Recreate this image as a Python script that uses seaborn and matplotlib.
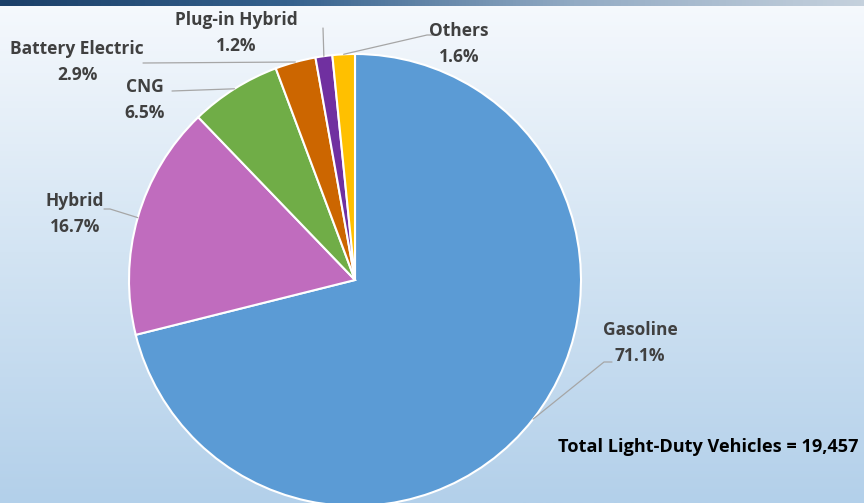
import numpy as np
import matplotlib.pyplot as plt
import seaborn as sns
from matplotlib.colors import LinearSegmentedColormap

# data
fuels = ["Gasoline", "Hybrid", "CNG", "Battery Electric", "Plug-in Hybrid", "Others"]
shares = [71.1, 16.7, 6.5, 2.9, 1.2, 1.6]
colors = ["#5B9BD5", "#C06CBE", "#70AD47", "#CC6600", "#7030A0", "#FFC000"]
total_text = "Total Light-Duty Vehicles = 19,457"

# label layout (pixels from top-left)
name_pos = [(640, 330), (75, 201), (145, 87), (77, 49), (236, 20), (459, 31)]
pct_pos = [(640, 356), (75, 227), (145, 113), (77, 75), (236, 46), (459, 57)]
leader_end = [[(604, 362), (612, 362)], [(110, 209), (104, 209)], [(172, 91)],
              [(143, 63)], [(323, 28)], [(427, 35), (433, 35)]]

W, H = 864, 503
sns.set_theme(style="white")
plt.rcParams["font.family"] = ["Open Sans", "DejaVu Sans"]

fig = plt.figure(figsize=(W / 100, H / 100), dpi=100)
ax = fig.add_axes([0, 0, 1, 1])

# background gradient
bg = LinearSegmentedColormap.from_list("bg", ["#B3D0EA", "#D3E4F3", "#F6F9FD"])
grad = np.linspace(0, 1, 256).reshape(-1, 1)
ax.imshow(grad, cmap=bg, origin="lower", extent=[0, W, 0, H], aspect="auto", zorder=0)

# top bar
bar = LinearSegmentedColormap.from_list("bar", ["#1B3F68", "#35618D", "#93ABC4", "#C5D1DD"])
hgrad = np.linspace(0, 1, 256).reshape(1, -1)
ax.imshow(hgrad, cmap=bar, extent=[0, W, H - 6, H], aspect="auto", zorder=1)

cx, cy, r = 355, H - 280, 226
wedges, _ = ax.pie(shares, colors=colors, startangle=90, counterclock=False,
                   center=(cx, cy), radius=r, frame=True,
                   wedgeprops=dict(edgecolor="white", linewidth=1.5))
for w in wedges:
    w.set_zorder(2)
ax.set_xlim(0, W)
ax.set_ylim(0, H)
ax.set_aspect("equal")
ax.axis("off")

for w, name, share, npos, ppos, ends in zip(wedges, fuels, shares, name_pos, pct_pos, leader_end):
    mid = np.deg2rad((w.theta1 + w.theta2) / 2)
    xs = [cx + r * np.cos(mid)] + [p[0] for p in ends]
    ys = [cy + r * np.sin(mid)] + [H - p[1] for p in ends]
    ax.plot(xs, ys, color="#A6A6A6", lw=0.9, zorder=3)
    ax.text(npos[0], H - npos[1], name, ha="center", va="center",
            fontsize=12.5, fontweight="bold", color="#404040", zorder=4)
    ax.text(ppos[0], H - ppos[1], f"{share:.1f}%", ha="center", va="center",
            fontsize=12.5, fontweight="bold", color="#404040", zorder=4)

ax.text(858, H - 447, total_text, ha="right", va="center",
        fontsize=13.1, fontweight="bold", color="black", zorder=4)

fig.savefig("out.png", dpi=100)
